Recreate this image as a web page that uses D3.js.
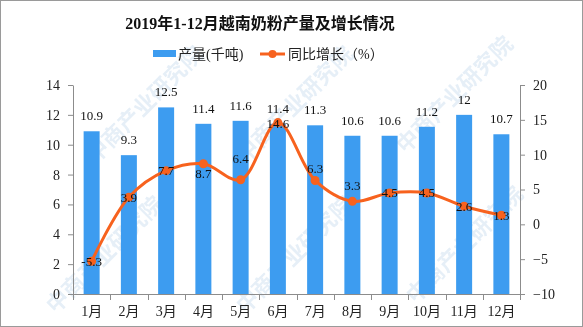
<!DOCTYPE html>
<html><head><meta charset="utf-8">
<script src="https://cdn.jsdelivr.net/npm/d3@7"></script>
<style>
body{margin:0;background:#fff;}
svg{display:block;}
text{font-family:"Liberation Serif","Noto Sans CJK SC",serif;}
</style></head>
<body>
<svg id="chart" width="583" height="327"></svg>
<script>
const categories = ["1月","2月","3月","4月","5月","6月","7月","8月","9月","10月","11月","12月"];
const production = [10.9, 9.3, 12.5, 11.4, 11.6, 11.4, 11.3, 10.6, 10.6, 11.2, 12, 10.7];
const growth = [-5.3, 3.9, 7.7, 8.7, 6.4, 14.6, 6.3, 3.3, 4.5, 4.5, 2.6, 1.3];
const leftTicks = [0, 2, 4, 6, 8, 10, 12, 14];
const rightTicks = [-10, -5, 0, 5, 10, 15, 20];
const title = "2019年1-12月越南奶粉产量及增长情况";
const legendBar = "产量(千吨)";
const legendLine = "同比增长（%）";

const svg = d3.select("#chart");
const W = 583, H = 327;
const x0 = 73, x1 = 520, yTop = 85, yBot = 294;
const barColor = "#3d9cf0", lineColor = "#f7621e", axisColor = "#8c8c8c";

// frame
svg.append("rect").attr("x",0.5).attr("y",0.5).attr("width",W-1).attr("height",H-1)
  .attr("fill","#fff").attr("stroke","#9a9a9a");

// watermark
const wm = svg.append("g").attr("opacity",0.45);
[[150,110],[300,110],[460,100],[110,260],[300,260],[470,250]].forEach(([cx,cy])=>{
  wm.append("text").attr("transform",`translate(${cx},${cy}) rotate(-45)`)
    .attr("text-anchor","middle").attr("font-size",22).attr("font-weight","bold")
    .attr("fill","#c7dbee").style("font-family","Noto Sans CJK SC").text("中商产业研究院");
});

const x = d3.scaleBand().domain(categories).range([x0, x1]);
const yL = d3.scaleLinear().domain([0,14]).range([yBot, yTop]);
const yR = d3.scaleLinear().domain([-10,20]).range([yBot, yTop]);

// title
svg.append("text").attr("x",260).attr("y",29).attr("text-anchor","middle")
  .attr("font-size",16).attr("font-weight","bold").attr("fill","#111").text(title);

// legend
svg.append("rect").attr("x",153).attr("y",50).attr("width",23).attr("height",7).attr("fill",barColor);
svg.append("text").attr("x",178).attr("y",59).attr("font-size",14).attr("fill","#222").text(legendBar);
svg.append("line").attr("x1",260).attr("x2",285).attr("y1",54).attr("y2",54).attr("stroke",lineColor).attr("stroke-width",3);
svg.append("circle").attr("cx",272.5).attr("cy",54).attr("r",4).attr("fill",lineColor);
svg.append("text").attr("x",288).attr("y",59).attr("font-size",14).attr("fill","#222").text(legendLine);

// axes
function styleAxis(g){
  g.selectAll("path,line").attr("stroke",axisColor);
  g.selectAll("text").attr("fill","#222").attr("font-size",14)
   .style("font-family","'Liberation Serif','Noto Sans CJK SC',serif");
}
svg.append("g").attr("transform",`translate(${x0},0)`)
  .call(d3.axisLeft(yL).tickValues(leftTicks).tickSize(5).tickSizeOuter(0).tickPadding(8))
  .call(styleAxis);
svg.append("g").attr("transform",`translate(${x1},0)`)
  .call(d3.axisRight(yR).tickValues(rightTicks).tickSize(5).tickSizeOuter(0).tickPadding(8)
    .tickFormat(d=>d<0?"\u2212"+Math.abs(d):d))
  .call(styleAxis);
const xg = svg.append("g").attr("transform",`translate(0,${yBot})`)
  .call(d3.axisBottom(x).tickSize(0).tickPadding(12))
  .call(styleAxis);
xg.select("path").attr("d",`M${x0},0.5H${x1}`);
const bounds = categories.map(c=>x(c)).concat([x1]);
xg.selectAll("line.bound").data(bounds).enter().append("line").attr("class","bound")
  .attr("x1",d=>Math.round(d)+0.5).attr("x2",d=>Math.round(d)+0.5).attr("y1",0).attr("y2",6).attr("stroke",axisColor);

// bars
const bw = 16;
svg.append("g").selectAll("rect").data(production).enter().append("rect")
  .attr("x",(d,i)=>x(categories[i])+x.bandwidth()/2-bw/2)
  .attr("y",d=>yL(d)).attr("width",bw).attr("height",d=>yBot-yL(d)).attr("fill",barColor);
svg.append("g").selectAll("text").data(production).enter().append("text")
  .attr("x",(d,i)=>x(categories[i])+x.bandwidth()/2).attr("y",d=>yL(d)-11)
  .attr("text-anchor","middle").attr("font-size",13).attr("fill","#111").text(d=>d);

// line
const cx = i => x(categories[i])+x.bandwidth()/2;
const line = d3.line().x((d,i)=>cx(i)).y(d=>yR(d)).curve(d3.curveCatmullRom.alpha(0.5));
svg.append("path").datum(growth).attr("d",line).attr("fill","none")
  .attr("stroke",lineColor).attr("stroke-width",3);
svg.append("g").selectAll("circle").data(growth).enter().append("circle")
  .attr("cx",(d,i)=>cx(i)).attr("cy",d=>yR(d)).attr("r",4.5).attr("fill",lineColor);
const labelShift = {3:10, 4:-21, 5:1, 6:-12, 7:-16};
svg.append("g").selectAll("text").data(growth).enter().append("text")
  .attr("x",(d,i)=>cx(i)).attr("y",(d,i)=>yR(d)+(labelShift[i]||0)+4.5)
  .attr("text-anchor","middle").attr("font-size",13).attr("fill","#111").text(d=>d);
</script>
</body></html>
